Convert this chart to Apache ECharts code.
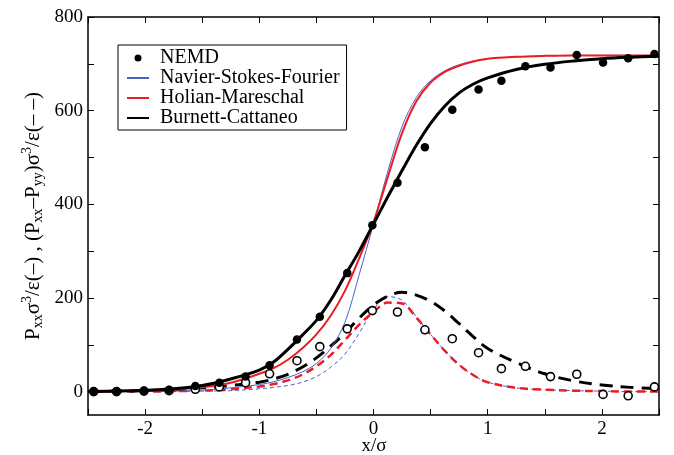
<!DOCTYPE html>
<html>
<head>
<meta charset="utf-8">
<script src="https://cdn.jsdelivr.net/npm/echarts@6/dist/echarts.min.js"></script>
<style>html,body{margin:0;padding:0;background:#fff}#c{width:674px;height:455px}</style>
</head>
<body>
<div id="c"></div>
<script>
// ---- data ----
const xTicks = [-2, -1, 0, 1, 2];
const yTicks = [0, 200, 400, 600, 800];
const yMinorTicks = [0, 100, 200, 300, 400, 500, 600, 700, 800];

// NEMD points
const nemdX    = [-2.45, -2.25, -2.01, -1.79, -1.56, -1.35, -1.12, -0.91, -0.67, -0.47, -0.23, -0.01, 0.21, 0.45, 0.69, 0.92, 1.12, 1.33, 1.55, 1.78, 2.01, 2.23, 2.46];
const nemdPxx  = [0, 0, 2, 4, 12, 19, 32, 56, 111, 160, 253, 355, 446, 522, 602, 645, 664, 695, 692, 719, 703, 712, 721];
const nemdDiff = [0, 0, 1, 2, 5, 10, 19, 38, 66, 96, 134, 173, 170, 132, 113, 83, 49, 54, 32, 37, -6, -9, 10];

// model curves
const curveX  = [-2.5, -2.25, -2, -1.75, -1.5, -1.25, -1, -0.875, -0.75, -0.625, -0.5, -0.375, -0.25, -0.125, 0, 0.125, 0.25, 0.375, 0.5, 0.625, 0.75, 0.875, 1, 1.25, 1.5, 1.75, 2, 2.25, 2.5];
const nsfPxx  = [0, 0, 1, 1, 3, 8, 15, 21, 30, 42, 60, 92, 148, 250, 358, 470, 566, 628, 664, 685, 698, 706, 711, 715, 717, 718, 718, 718, 718];
const hmPxx   = [0, 1, 2, 4, 9, 19, 38, 50, 68, 92, 122, 162, 215, 285, 362, 458, 552, 620, 660, 683, 696, 705, 711, 715, 717, 718, 718, 718, 718];
const bcPxx   = [0, 1, 3, 6, 13, 27, 46, 63, 90, 120, 152, 195, 248, 300, 358, 416, 472, 526, 573, 610, 638, 657, 670, 688, 699, 706, 711, 714, 716];
const nsfDiff = [0, 0, 0, 0, 1, 2, 6, 9, 13, 20, 32, 52, 80, 125, 175, 203, 195, 160, 122, 87, 57, 35, 20, 8, 4, 2, 1, 0, 0];
const hmDiff  = [0, 0, 0, 1, 2, 5, 11, 16, 24, 36, 54, 78, 110, 143, 170, 190, 188, 158, 122, 87, 57, 35, 20, 8, 4, 2, 1, 0, 0];
const bcDiff  = [0, 1, 2, 4, 8, 13, 20, 27, 37, 52, 72, 97, 125, 157, 185, 204, 212, 206, 193, 172, 145, 117, 92, 62, 38, 23, 14, 9, 6];

const zip = (xs, ys) => xs.map((x, i) => [x, ys[i]]);

const FONT = 'Liberation Serif';
const BLUE = '#4862c4';
const RED = '#ec1c24';

const chart = echarts.init(document.getElementById('c'), null, {renderer: 'canvas'});

const axisLineStyle = {color: '#000', width: 1.5};
const tickStyle = {color: '#000', width: 1};
const noFill = {color: 'rgba(0,0,0,0)', borderColor: 'rgba(0,0,0,0)', borderWidth: 0};

const lineBase = {type: 'line', symbol: 'none', smooth: 0.35, animation: false};

chart.setOption({
  animation: false,
  backgroundColor: '#fff',
  grid: {left: 88, right: 15, top: 17, bottom: 40, show: false, containLabel: false, outerBoundsMode: 'none'},
  legend: {
    left: 118, top: 45, orient: 'vertical',
    borderColor: '#000', borderWidth: 1, borderRadius: 0,
    padding: [3, 7, 2, 8], itemGap: 0,
    itemWidth: 22, itemHeight: 7,
    selectedMode: false,
    textStyle: {fontFamily: FONT, fontSize: 20, lineHeight: 19.5, color: '#000', padding: [0, 0, 0, 6]},
    data: [
      {name: 'NEMD', icon: 'circle'},
      {name: 'Navier-Stokes-Fourier', itemStyle: noFill},
      {name: 'Holian-Mareschal', itemStyle: noFill},
      {name: 'Burnett-Cattaneo', itemStyle: noFill}
    ]
  },
  xAxis: [{
    type: 'value', min: -2.5, max: 2.5, interval: 0.5, position: 'bottom',
    axisLine: {onZero: false, lineStyle: axisLineStyle},
    axisTick: {inside: true, length: 6, lineStyle: tickStyle},
    axisLabel: {fontFamily: FONT, fontSize: 19, color: '#000', margin: 5,
      formatter: v => (xTicks.indexOf(Math.round(v * 2) / 2) >= 0 ? String(Math.round(v)) : '')},
    splitLine: {show: false}
  }, {
    type: 'value', min: -2.5, max: 2.5, interval: 0.5, position: 'top',
    axisLine: {onZero: false, lineStyle: axisLineStyle},
    axisTick: {inside: true, length: 6, lineStyle: tickStyle},
    axisLabel: {show: false}, splitLine: {show: false}
  }],
  yAxis: [{
    type: 'value', min: -50, max: 800, position: 'left',
    axisLine: {onZero: false, show: true, lineStyle: axisLineStyle},
    axisTick: {show: true, inside: true, length: 6, lineStyle: tickStyle, customValues: yMinorTicks},
    axisLabel: {fontFamily: FONT, fontSize: 19, color: '#000', margin: 5, customValues: yTicks},
    splitLine: {show: false}
  }, {
    type: 'value', min: -50, max: 800, position: 'right',
    axisLine: {onZero: false, show: true, lineStyle: axisLineStyle},
    axisTick: {show: true, inside: true, length: 6, lineStyle: tickStyle, customValues: yMinorTicks},
    axisLabel: {show: false}, splitLine: {show: false}
  }],
  graphic: [{
    type: 'text', x: 33, y: 216, rotation: Math.PI / 2, silent: true,
    style: {
      text: '{m|P}{sub|xx}{m|σ}{sup|3}{m|/ε(–) , (P}{sub|xx}{m|–P}{sub|yy}{m|)σ}{sup|3}{m|/ε(– –)}',
      align: 'center', verticalAlign: 'middle',
      fontFamily: FONT, fontSize: 21, fill: '#000',
      rich: {
        m: {fontFamily: FONT, fontSize: 21, fill: '#000'},
        sub: {fontFamily: FONT, fontSize: 14, fill: '#000', padding: [10, 0, 0, 0]},
        sup: {fontFamily: FONT, fontSize: 14, fill: '#000', padding: [0, 0, 12, 0]}
      }
    }
  }, {
    type: 'text', x: 374, y: 446, silent: true,
    style: {text: 'x/σ', align: 'center', verticalAlign: 'middle', fontFamily: FONT, fontSize: 19, fill: '#000'}
  }],
  series: [
    Object.assign({}, lineBase, {name: 'NSF (Pxx−Pyy)', data: zip(curveX, nsfDiff), z: 2,
      lineStyle: {color: BLUE, width: 1, type: [4, 3]}, itemStyle: {color: BLUE}}),
    Object.assign({}, lineBase, {name: 'HM (Pxx−Pyy)', data: zip(curveX, hmDiff), z: 3,
      lineStyle: {color: RED, width: 2.5, type: [8, 5]}, itemStyle: {color: RED}}),
    Object.assign({}, lineBase, {name: 'BC (Pxx−Pyy)', data: zip(curveX, bcDiff), z: 4,
      lineStyle: {color: '#000', width: 3, type: [13, 8]}, itemStyle: {color: '#000'}}),
    Object.assign({}, lineBase, {name: 'Navier-Stokes-Fourier', data: zip(curveX, nsfPxx), z: 5,
      lineStyle: {color: BLUE, width: 1}, itemStyle: {color: BLUE}}),
    Object.assign({}, lineBase, {name: 'Holian-Mareschal', data: zip(curveX, hmPxx), z: 6,
      lineStyle: {color: RED, width: 2}, itemStyle: {color: RED}}),
    Object.assign({}, lineBase, {name: 'Burnett-Cattaneo', data: zip(curveX, bcPxx), z: 7,
      lineStyle: {color: '#000', width: 3}, itemStyle: {color: '#000'}}),
    {type: 'scatter', name: 'NEMD (Pxx−Pyy)', data: zip(nemdX, nemdDiff), z: 8, symbolSize: 8,
      itemStyle: {color: '#fff', borderColor: '#000', borderWidth: 1.6, opacity: 1}},
    {type: 'scatter', name: 'NEMD', data: zip(nemdX, nemdPxx), z: 9, symbolSize: 8.5,
      itemStyle: {color: '#000', opacity: 1}}
  ]
});
</script>
</body>
</html>
